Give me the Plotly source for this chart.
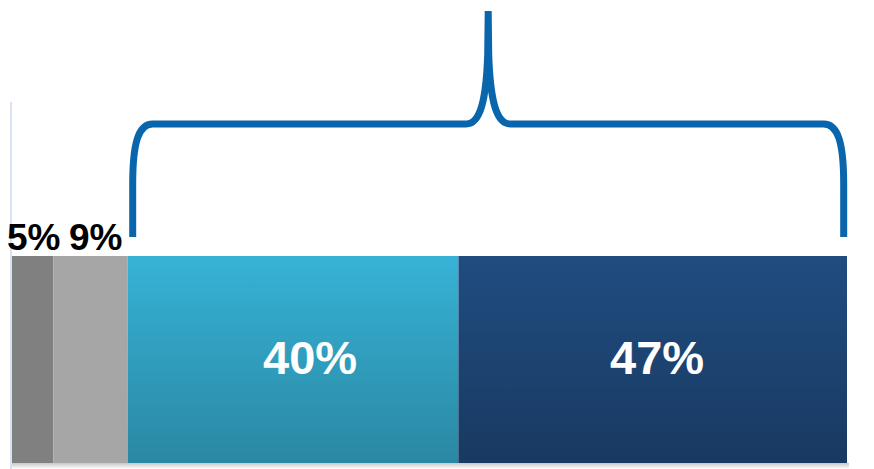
import plotly.graph_objects as go

# Share of respondents per segment (stacked into one bar)
segment_values = [5, 9, 40, 47]
segment_labels = ["5%", "9%", "40%", "47%"]
segment_colors = ["#808080", "#a6a6a6", "#37b2d6", "#204c80"]
shaded_segments = [False, False, True, True]
label_inside = [False, False, True, True]
label_xshift = [1, 5, 17, 4]

# Bracket spans the last two segments
bracket_from, bracket_to = 2, 3

W, H = 874, 469
PX_PER_UNIT = 835 / sum(segment_values)
X0_PX = 12

def u(px):
    """pixel offset -> x data units"""
    return px / PX_PER_UNIT

bar_center, bar_thickness = 359.5, 207
bar_top = bar_center - bar_thickness / 2
bar_bottom = bar_center + bar_thickness / 2

starts = []
acc = 0
for v in segment_values:
    starts.append(acc)
    acc += v
total = acc

fig = go.Figure()

# drop shadow under the bar
fig.add_trace(go.Scatter(
    x=[0, total + u(2), total + u(2), 0, 0],
    y=[bar_bottom, bar_bottom, bar_bottom + 6, bar_bottom + 6, bar_bottom],
    fill="toself", mode="none", hoverinfo="skip", showlegend=False,
    fillgradient=dict(type="vertical", start=bar_bottom, stop=bar_bottom + 6,
                      colorscale=[[0, "rgba(0,0,0,0.22)"], [1, "rgba(0,0,0,0)"]]),
))

for v, s, c in zip(segment_values, starts, segment_colors):
    fig.add_trace(go.Bar(
        x=[v], y=[bar_center], base=[s], orientation="h", width=bar_thickness,
        marker=dict(color=c, line=dict(width=0)), hoverinfo="skip", showlegend=False,
    ))

# vertical shading on the coloured segments
for v, s, shade in zip(segment_values, starts, shaded_segments):
    if not shade:
        continue
    fig.add_trace(go.Scatter(
        x=[s, s + v, s + v, s, s],
        y=[bar_top, bar_top, bar_bottom, bar_bottom, bar_top],
        fill="toself", mode="none", hoverinfo="skip", showlegend=False,
        fillgradient=dict(type="vertical", start=bar_top, stop=bar_bottom,
                          colorscale=[[0, "rgba(0,0,0,0)"], [1, "rgba(0,0,0,0.24)"]]),
    ))

annotations = []
for v, s, lab, inside, dx in zip(segment_values, starts, segment_labels, label_inside, label_xshift):
    if inside:
        annotations.append(dict(
            x=s + v / 2, y=bar_center - 2, xref="x", yref="y", text=lab, showarrow=False,
            xshift=dx, font=dict(family="Liberation Sans, Arial", size=47, color="white", weight="bold"),
            xanchor="center", yanchor="middle",
        ))
    else:
        annotations.append(dict(
            x=s + v / 2, y=bar_top - 19, xref="x", yref="y", text=lab, showarrow=False,
            xshift=dx,
            font=dict(family="Liberation Sans, Arial", size=37, color="black", weight="bold"),
            xanchor="center", yanchor="middle",
        ))

# curly bracket over the selected segments
xl = starts[bracket_from] + 0.6
xr = starts[bracket_to] + segment_values[bracket_to] - 0.4
xm = (xl + xr) / 2
yb, yh, yp = 237, 124, 11
path = (
    f"M {xl},{yb} L {xl},{yh + 60} "
    f"C {xl},{yh + 18} {xl + u(6)},{yh} {xl + u(20)},{yh} "
    f"L {xm - u(22)},{yh} "
    f"C {xm - u(8)},{yh} {xm - u(2)},{yh - 23} {xm - u(0.5)},{yh - 70} "
    f"L {xm},{yp} "
    f"L {xm + u(0.5)},{yh - 70} "
    f"C {xm + u(2)},{yh - 23} {xm + u(8)},{yh} {xm + u(22)},{yh} "
    f"L {xr - u(20)},{yh} "
    f"C {xr - u(6)},{yh} {xr},{yh + 18} {xr},{yh + 60} "
    f"L {xr},{yb}"
)

shapes = [
    # value axis line
    dict(type="line", xref="x", yref="y", x0=-u(1), x1=-u(1), y0=102, y1=H,
         line=dict(color="#d9e2f2", width=2), layer="below"),
    dict(type="path", xref="x", yref="y", path=path,
         line=dict(color="#0a66ac", width=7), layer="above"),
]

fig.update_layout(
    width=W, height=H,
    margin=dict(l=0, r=0, t=0, b=0),
    paper_bgcolor="white", plot_bgcolor="white",
    barmode="overlay",
    xaxis=dict(range=[-u(X0_PX), u(W - X0_PX)], visible=False, fixedrange=True),
    yaxis=dict(range=[H, 0], visible=False, fixedrange=True),
    shapes=shapes, annotations=annotations, showlegend=False,
)

fig.write_html("out.html")
